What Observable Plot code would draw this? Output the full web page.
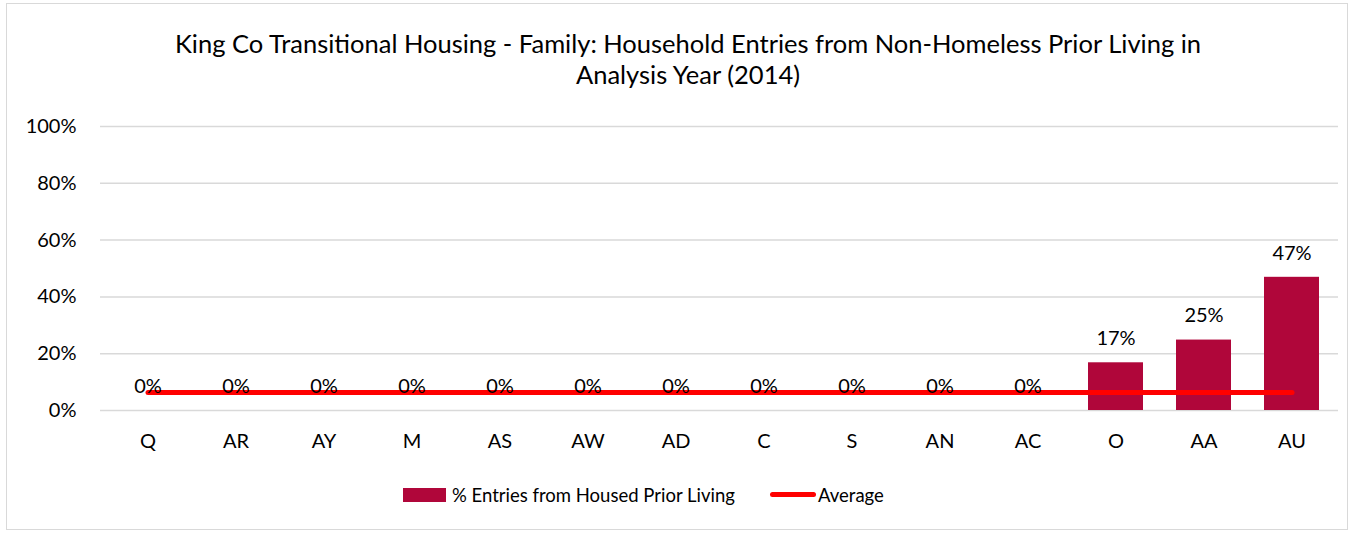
<!DOCTYPE html>
<html>
<head>
<meta charset="utf-8">
<script src="https://cdn.jsdelivr.net/npm/d3@7"></script>
<script src="https://cdn.jsdelivr.net/npm/@observablehq/plot@0.6"></script>
<style>
  html, body { margin: 0; padding: 0; background: #fff; }
  #wrap { position: relative; width: 1351px; height: 533px; font-family: Lato, "Open Sans", sans-serif; color: #000; overflow: hidden; }
  #frame { position: absolute; left: 6px; top: 3px; width: 1342px; height: 527px; border: 1px solid #d9d9d9; box-sizing: border-box; }
  #title { position: absolute; left: 0; width: 1376px; top: 28px; text-align: center; font-size: 25.5px; line-height: 31px; }
  #chart { position: absolute; left: 0; top: 100px; }
  #legend { position: absolute; top: 482px; left: 0; width: 1351px; height: 26px; font-size: 18.5px; }
  .sw { position: absolute; }
  .lt { position: absolute; top: 0; line-height: 26px; white-space: nowrap; }
</style>
</head>
<body>
<div id="wrap">
  <div id="frame"></div>
  <div id="title">King Co Transitional Housing - Family: Household Entries from Non-Homeless Prior Living in<br>Analysis Year (2014)</div>
  <div id="chart"></div>
  <div id="legend">
    <div class="sw" style="left:403px; top:6px; width:43px; height:14px; background:#B0063A;"></div>
    <div class="lt" style="left:452px;">% Entries from Housed Prior Living</div>
    <div class="sw" style="left:770px; top:10px; width:46px; height:5px; border-radius:3px; background:#FF0000;"></div>
    <div class="lt" style="left:818px;">Average</div>
  </div>
</div>
<script>
const categories = ["Q","AR","AY","M","AS","AW","AD","C","S","AN","AC","O","AA","AU"];
const housedShare = [0,0,0,0,0,0,0,0,0,0,0,0.168,0.248,0.469];
const averageShare = 0.063;
const yTicks = [0,0.2,0.4,0.6,0.8,1.0];

const data = categories.map((c, i) => ({cat: c, v: housedShare[i], avg: averageShare}));
const fmt = d3.format(".0%");

const plot = Plot.plot({
  width: 1351,
  height: 360,
  marginTop: 26,
  marginBottom: 50,
  marginLeft: 100,
  marginRight: 13,
  style: {fontFamily: "Lato, 'Open Sans', sans-serif", fontSize: "20px", color: "#000", background: "transparent"},
  x: {domain: categories, paddingInner: 0.38, paddingOuter: 0.19, label: null, tickSize: 0, tickPadding: 23},
  y: {domain: [0, 1], ticks: yTicks, tickFormat: fmt, label: null, tickSize: 0, tickPadding: 24},
  marks: [
    Plot.gridY(yTicks, {stroke: "#d9d9d9", strokeOpacity: 1, strokeWidth: 1.5}),
    Plot.barY(data, {x: "cat", y: "v", fill: "#B0063A"}),
    Plot.lineY(data, {x: "cat", y: "avg", stroke: "#FF0000", strokeWidth: 5, strokeLinecap: "round"}),
    Plot.text(data, {x: "cat", y: "v", text: d => fmt(d.v), dy: -24, fill: "#000"})
  ]
});
document.getElementById("chart").appendChild(plot);
</script>
</body>
</html>
